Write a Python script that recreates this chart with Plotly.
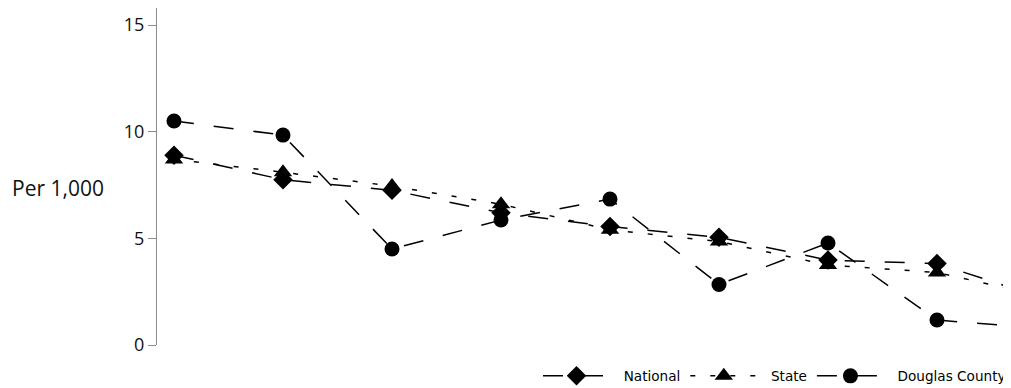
import plotly.graph_objects as go

# Rate per 1,000 by period; labels on the x axis are not shown in the chart.
periods = [1, 2, 3, 4, 5, 6, 7, 8, 9]
national = [8.9, 7.75, 7.25, 6.2, 5.55, 5.05, 3.98, 3.82, 2.15]
state = [8.7, 8.1, 7.45, 6.6, 5.4, 4.85, 3.75, 3.4, 2.25]
douglas_county = [10.5, 9.84, 4.5, 5.86, 6.84, 2.84, 4.78, 1.17, 0.76]
y_ticks = [0, 5, 10, 15]

INK = "#000000"
AXIS = "#8c8c8c"
PAD = "\u00a0\u00a0"  # gap between legend symbol and its label

fig = go.Figure()

# state first so the diamonds sit on top of the triangles, as in the source
fig.add_trace(
    go.Scatter(
        x=periods,
        y=state,
        mode="lines+markers",
        name=PAD + "State",
        legendrank=2,
        line=dict(color=INK, width=1.5, dash="5px,15px"),
        marker=dict(symbol="triangle-up", size=16, color=INK),
    )
)
fig.add_trace(
    go.Scatter(
        x=periods,
        y=national,
        mode="lines+markers",
        name=PAD + "National",
        legendrank=1,
        line=dict(color=INK, width=1.5, dash="20px,20px"),
        marker=dict(symbol="diamond", size=15, color=INK),
    )
)
fig.add_trace(
    go.Scatter(
        x=periods,
        y=douglas_county,
        mode="lines+markers",
        name=PAD + "Douglas County",
        legendrank=3,
        line=dict(color=INK, width=1.5, dash="20px,20px"),
        marker=dict(symbol="circle", size=15, color=INK),
    )
)

fig.add_annotation(
    text="Per 1,000",
    xref="paper",
    yref="paper",
    x=-0.172,
    y=0.466,
    xanchor="left",
    yanchor="middle",
    showarrow=False,
    font=dict(size=21, color="#111111"),
)

# the page body keeps its default 8px margin, so the figure is 8px smaller
fig.update_layout(
    width=1003,
    height=380,
    margin=dict(l=149, r=0, t=0, b=43),
    paper_bgcolor="white",
    plot_bgcolor="white",
    font=dict(family="'Open Sans', sans-serif", color="#111111"),
    showlegend=True,
    legend=dict(
        orientation="h",
        xref="container",
        yref="container",
        x=1.0,
        xanchor="right",
        y=0.0316,
        yanchor="middle",
        itemwidth=67,
        font=dict(family="'DejaVu Sans', sans-serif", size=13.6, color=INK),
        bgcolor="rgba(0,0,0,0)",
    ),
)
fig.update_xaxes(
    visible=False,
    range=[0.844, 8.679],
)
fig.update_yaxes(
    range=[0, 15.8],
    tickvals=y_ticks,
    showgrid=False,
    zeroline=False,
    showline=True,
    linecolor=AXIS,
    linewidth=1,
    ticks="outside",
    ticklen=8,
    tickcolor=AXIS,
    tickfont=dict(size=18, color="#111111"),
)

fig.write_html("out.html")
